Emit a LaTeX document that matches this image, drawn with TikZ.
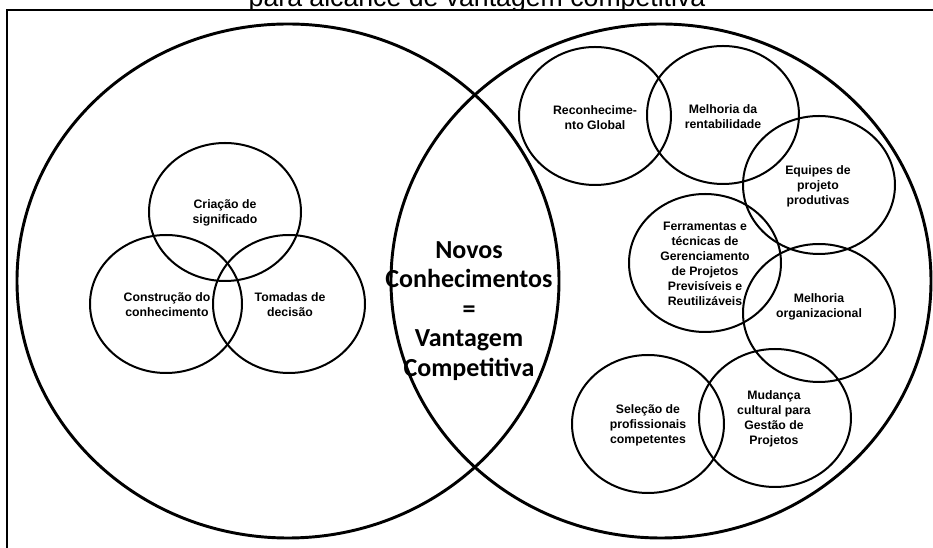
\documentclass[tikz,border=0pt]{standalone}
\usepackage{fontspec}
\setmainfont{Liberation Sans}
\newfontfamily\carlito{Carlito}
\usetikzlibrary{positioning}
\tikzset{
  conjunto/.style={line width=2.2pt},
  bolha/.style={line width=1.5pt},
  rotulo/.style={font=\bfseries\fontsize{9.2}{11.25}\selectfont, align=center, inner sep=0pt},
  central/.style={font=\carlito\bfseries\fontsize{19.5}{22.1}\selectfont, align=center, inner sep=0pt}
}
\begin{document}
\begin{tikzpicture}[x=0.75pt, y=-0.75pt]
  \useasboundingbox (0,0) rectangle (933,548);
  % t\'itulo cortado no topo
  \begin{scope}
    \clip (0,0) rectangle (933,8.5);
    \node[font=\fontsize{20}{24}\selectfont, anchor=base, inner sep=0pt] (titulo) at (477,6.5)
      {para alcance de vantagem competitiva};
  \end{scope}
  % moldura
  \draw[line width=1.6pt] (7,560) -- (7,10) -- (945,10);
  % conjuntos grandes
  \draw[conjunto] (288,281) ellipse [x radius=271, y radius=257];
  \draw[conjunto] (661,281) ellipse [x radius=270, y radius=257];
  % bolhas menores
  \foreach \cx/\cy in {225/212, 166/304, 289/304, 595/116, 723/115,
                       819/185, 705/263, 819/313, 648/424, 775/418}
    \draw[bolha] (\cx,\cy) ellipse [x radius=76, y radius=69];
  % lado esquerdo
  \node[rotulo] (criacao) at (225,212.5) {Criação de\\significado};
  \node[rotulo] (construcao) at (167,304.5) {Construção do\\conhecimento};
  \node[rotulo] (tomadas) at (290,304.5) {Tomadas de\\decisão};
  % intersec\c{c}\~ao
  \node[central] (novos) at (469,311)
    {Novos\\Conhecimentos\\=\\Vantagem\\Competitiva};
  % lado direito
  \node[rotulo] (reconh) at (595,118) {Reconhecime-\\nto Global};
  \node[rotulo] (rentab) at (723,116.5) {Melhoria da\\rentabilidade};
  \node[rotulo] (equipes) at (818,186) {Equipes de\\projeto\\produtivas};
  \node[rotulo] (ferram) at (705,264)
    {Ferramentas e\\técnicas de\\Gerenciamento\\de Projetos\\Previsíveis e\\Reutilizáveis};
  \node[rotulo] (melhorg) at (819,307) {Melhoria\\organizacional};
  \node[rotulo] (selecao) at (648,425) {Seleção de\\profissionais\\competentes};
  \node[rotulo] (mudanca) at (774,419) {Mudança\\cultural para\\Gestão de\\Projetos};
\end{tikzpicture}
\end{document}
